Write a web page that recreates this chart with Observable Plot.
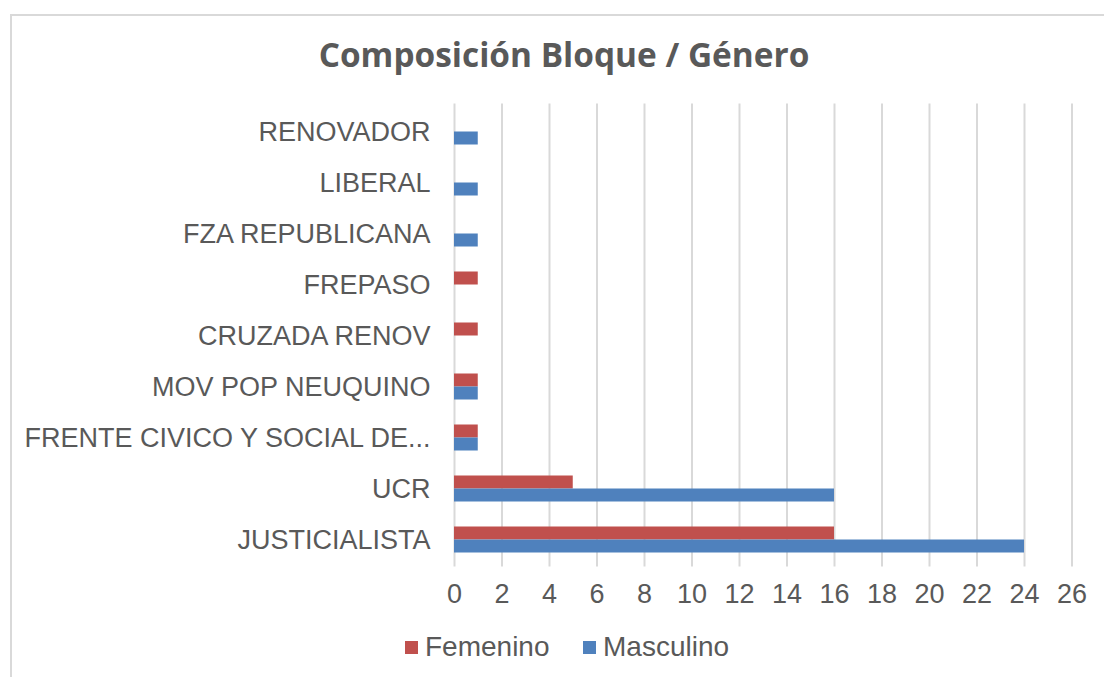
<!DOCTYPE html>
<html>
<head>
<meta charset="utf-8">
<script src="https://cdn.jsdelivr.net/npm/d3@7"></script>
<script src="https://cdn.jsdelivr.net/npm/@observablehq/plot@0.6"></script>
<style>
  html, body { margin: 0; padding: 0; background: #fff; }
  body { width: 1104px; height: 677px; position: relative; overflow: hidden; font-family: "Liberation Sans", sans-serif; color: #595959; }
  #frame { position: absolute; left: 10px; top: 14px; width: 1200px; height: 800px; border: 2px solid #d9d9d9; box-sizing: border-box; }
  #title { position: absolute; left: 0; width: 1128px; top: 31px; text-align: center; font-family: "Open Sans", sans-serif; font-size: 33.4px; font-weight: 700; color: #595959; }
  #chart { position: absolute; left: 0; top: 90px; }
  #legend { position: absolute; top: 629px; left: 0; width: 1104px; height: 36px; }
  .lg { position: absolute; top: 0; display: flex; align-items: center; height: 36px; font-size: 28px; color: #595959; }
  .sw { width: 13px; height: 13px; margin-right: 7px; }
</style>
</head>
<body>
<div id="frame"></div>
<div id="title">Composición Bloque / Género</div>
<div id="chart"></div>
<div id="legend"></div>
<script>
const categories = ["RENOVADOR", "LIBERAL", "FZA REPUBLICANA", "FREPASO", "CRUZADA RENOV", "MOV POP NEUQUINO", "FRENTE CIVICO Y SOCIAL DE...", "UCR", "JUSTICIALISTA"];
const femenino  = [0, 0, 0, 1, 1, 1, 1, 5, 16];
const masculino = [1, 1, 1, 0, 0, 1, 1, 16, 24];
const series = ["Femenino", "Masculino"];
const colors = ["#C0504D", "#4F81BD"];
const xTicks = [0, 2, 4, 6, 8, 10, 12, 14, 16, 18, 20, 22, 24, 26];

const femData = categories.map((c, i) => ({cat: c, value: femenino[i], serie: series[0]}));
const masData = categories.map((c, i) => ({cat: c, value: masculino[i], serie: series[1]}));

const plot = Plot.plot({
  width: 1104,
  height: 535,
  marginTop: 13.5,
  marginBottom: 58.5,
  marginLeft: 454,
  marginRight: 32.5,
  style: {fontFamily: "Liberation Sans, sans-serif", fontSize: "27px", color: "#595959", background: "transparent"},
  x: {domain: [0, 26], ticks: xTicks, tickSize: 0, tickPadding: 17, label: null, tickFormat: d => String(d)},
  y: {domain: categories, padding: 0, tickSize: 0, tickPadding: 24, label: null},
  color: {domain: series, range: colors},
  marks: [
    Plot.gridX(xTicks, {stroke: "#d9d9d9", strokeOpacity: 1, strokeWidth: 2}),
    Plot.barX(femData, {y: "cat", x: "value", fill: "serie", insetTop: 12.5, insetBottom: 25.5}),
    Plot.barX(masData, {y: "cat", x: "value", fill: "serie", insetTop: 25.5, insetBottom: 12.5})
  ]
});
document.getElementById("chart").appendChild(plot);

const legend = document.getElementById("legend");
const lx = [405, 583];
series.forEach((s, i) => {
  const d = document.createElement("div");
  d.className = "lg";
  d.style.left = lx[i] + "px";
  d.innerHTML = `<div class="sw" style="background:${colors[i]}"></div><span>${s}</span>`;
  legend.appendChild(d);
});
</script>
</body>
</html>
